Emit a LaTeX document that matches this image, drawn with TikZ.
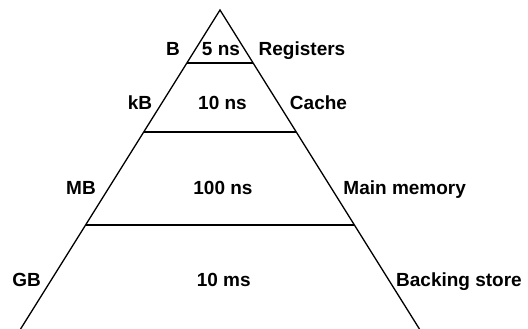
\documentclass[tikz,border=0pt]{standalone}
\usepackage{fontspec}
\setmainfont{Liberation Sans}
\begin{document}
\begin{tikzpicture}[x=1pt,y=-1pt,
  lbl/.style={font=\fontsize{19}{22}\selectfont\bfseries, anchor=base, inner sep=0pt},
  edge/.style={line width=1.3pt, black}]
\useasboundingbox (0,0) rectangle (528,329);
% triangle
\coordinate (apex) at (220,10);
\coordinate (bl) at (18.7,332);
\coordinate (br) at (421.3,332);
\draw[edge, line join=miter] (bl) -- (apex) -- (br);
% level lines
\coordinate (l1) at (186.9,63);   \coordinate (r1) at (253.1,63);
\coordinate (l2) at (143.75,132); \coordinate (r2) at (296.25,132);
\coordinate (l3) at (85.6,225);   \coordinate (r3) at (354.4,225);
\draw[edge] (l1) -- (r1);
\draw[edge] (l2) -- (r2);
\draw[edge] (l3) -- (r3);
% labels
\node[lbl] (b)   at (173,56)  {B};
\node[lbl] (t1)  at (221,56)  {5 ns};
\node[lbl] (n1)  at (302,56)  {Registers};
\node[lbl] (kb)  at (140,110) {kB};
\node[lbl] (t2)  at (222.5,110) {10 ns};
\node[lbl] (n2)  at (318.5,110) {Cache};
\node[lbl] (mb)  at (81,194)  {MB};
\node[lbl] (t3)  at (223,194) {100 ns};
\node[lbl] (n3)  at (404.7,194) {Main memory};
\node[lbl] (gb)  at (26.7,286) {GB};
\node[lbl] (t4)  at (223.7,286) {10 ms};
\node[lbl] (n4)  at (459,286) {Backing store};
\end{tikzpicture}
\end{document}
